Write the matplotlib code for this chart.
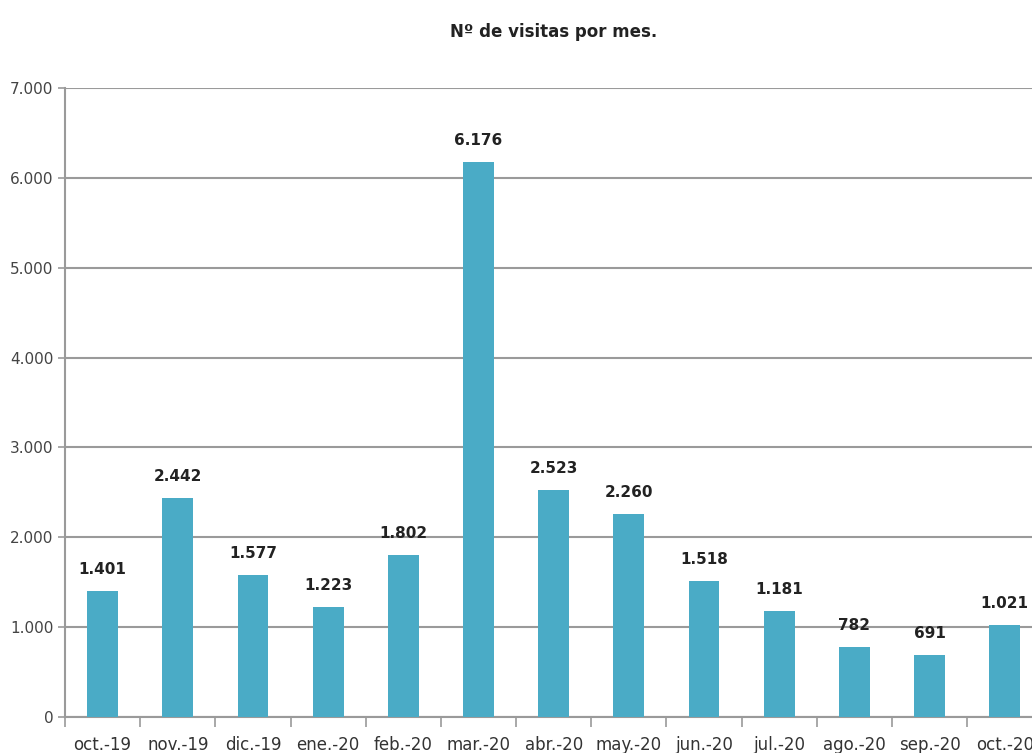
import matplotlib
matplotlib.use("Agg")
import matplotlib.pyplot as plt
from matplotlib.ticker import FuncFormatter, FixedLocator

months = ["oct.-19", "nov.-19", "dic.-19", "ene.-20", "feb.-20", "mar.-20", "abr.-20",
          "may.-20", "jun.-20", "jul.-20", "ago.-20", "sep.-20", "oct.-20"]
visits = [1401, 2442, 1577, 1223, 1802, 6176, 2523, 2260, 1518, 1181, 782, 691, 1021]
yticks = [0, 1000, 2000, 3000, 4000, 5000, 6000, 7000]

BAR = '#4aabc6'
GRID = '#9a9a9a'

def miles(v, pos=None):
    return f"{int(v):,}".replace(",", ".")

fig = plt.figure(figsize=(10.32, 7.53), dpi=100)
ax = fig.add_axes([0.063, 0.048, 0.947, 0.835])

x = list(range(len(months)))
bars = ax.bar(x, visits, width=0.41, color=BAR, zorder=3)

ax.set_xlim(-0.5, len(months) - 0.5)
ax.set_ylim(0, 7000)
ax.set_yticks(yticks)
ax.yaxis.set_major_formatter(FuncFormatter(miles))
ax.yaxis.grid(True, color=GRID, linewidth=1.5, zorder=0)

ax.set_xticks(x)
ax.set_xticklabels(months, fontsize=12, color='#333333')
ax.xaxis.set_minor_locator(FixedLocator([i - 0.5 for i in range(len(months) + 1)]))
ax.tick_params(axis='x', which='major', length=0, pad=14)
ax.tick_params(axis='x', which='minor', length=7, width=1.2, color=GRID)
ax.tick_params(axis='y', length=5, width=1.2, color=GRID, labelsize=11, labelcolor='#444444')

for s in ['top', 'right']:
    ax.spines[s].set_visible(False)
for s in ['left', 'bottom']:
    ax.spines[s].set_color(GRID)
    ax.spines[s].set_linewidth(1.5)

for xi, v in zip(x, visits):
    ax.annotate(miles(v), (xi, v), xytext=(0, 10), textcoords='offset points',
                ha='center', va='bottom', fontsize=11, fontweight='bold', color='#222222')

ax.set_title("Nº de visitas por mes.", fontsize=12, fontweight='bold', pad=37, color='#222222')

fig.savefig("out.png", dpi=100)
